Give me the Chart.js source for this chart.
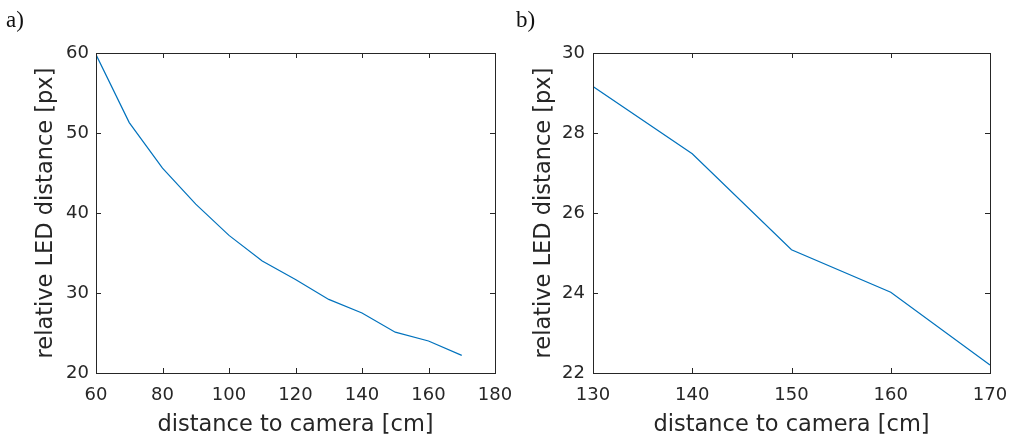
<!DOCTYPE html>
<html>
<head>
<meta charset="utf-8">
<script src="https://cdn.jsdelivr.net/npm/chart.js@4.4.1/dist/chart.umd.min.js"></script>
<style>
  html, body { margin: 0; padding: 0; background: #fff; }
  #wrap { position: relative; width: 1020px; height: 440px; overflow: hidden; }
  canvas { position: absolute; left: 0; top: 0; }
  .panel { position: absolute; font-family: "Liberation Serif", "DejaVu Serif", serif; font-size: 23px; line-height: 1; color: #111; }
</style>
</head>
<body>
<div id="wrap">
  <canvas id="c1" width="1020" height="440"></canvas>
  <canvas id="c2" width="1020" height="440"></canvas>
  <div class="panel" style="left:6px; top:8px;">a)</div>
  <div class="panel" style="left:516px; top:8px;">b)</div>
</div>
<script>
// ---- data ----
const distanceA = [60, 70, 80, 90, 100, 110, 120, 130, 140, 150, 160, 170];
const ledA = [59.8, 51.3, 45.6, 41.1, 37.2, 34.0, 31.7, 29.2, 27.5, 25.1, 24.0, 22.2];
const distanceB = [130, 140, 150, 160, 170];
const ledB = [29.16, 27.48, 25.08, 24.02, 22.2];
const xTitle = 'distance to camera [cm]';
const yTitle = 'relative LED distance [px]';

const AX = '#262626';
const LINE = '#0072BD';

const boxTicks = {
  id: 'boxTicks',
  afterDraw(chart) {
    const { ctx, chartArea: a, scales } = chart;
    const L = 5;
    ctx.save();
    ctx.strokeStyle = AX;
    ctx.lineWidth = 1;
    ctx.strokeRect(Math.round(a.left) + 0.5, Math.round(a.top) + 0.5,
                   Math.round(a.right - a.left), Math.round(a.bottom - a.top));
    ctx.beginPath();
    scales.x.ticks.forEach(t => {
      const px = Math.round(scales.x.getPixelForValue(t.value)) + 0.5;
      ctx.moveTo(px, a.bottom); ctx.lineTo(px, a.bottom - L);
      ctx.moveTo(px, a.top); ctx.lineTo(px, a.top + L);
    });
    scales.y.ticks.forEach(t => {
      const py = Math.round(scales.y.getPixelForValue(t.value)) + 0.5;
      ctx.moveTo(a.left, py); ctx.lineTo(a.left + L, py);
      ctx.moveTo(a.right, py); ctx.lineTo(a.right - L, py);
    });
    ctx.stroke();
    ctx.restore();
  }
};

function makeChart(id, xs, ys, xr, yr, pad, yWidth, yTitlePad, yTickPad) {
  return new Chart(document.getElementById(id), {
    type: 'line',
    data: {
      datasets: [{
        data: xs.map((x, i) => ({ x: x, y: ys[i] })),
        borderColor: LINE,
        borderWidth: 1.2,
        pointRadius: 0,
        tension: 0,
        fill: false
      }]
    },
    options: {
      responsive: false,
      animation: false,
      events: [],
      layout: { padding: pad },
      plugins: { legend: { display: false }, tooltip: { enabled: false } },
      scales: {
        x: {
          type: 'linear',
          min: xr[0], max: xr[1],
          grid: { display: false, drawTicks: false },
          border: { display: false },
          ticks: { stepSize: xr[2], color: AX, padding: 12, maxRotation: 0,
                   font: { family: 'DejaVu Sans', size: 18 } },
          title: { display: true, text: xTitle, color: AX,
                   font: { family: 'DejaVu Sans', size: 22.5 }, padding: { top: 0, bottom: 1 } },
          afterFit(s) { s.height = 67; }
        },
        y: {
          type: 'linear',
          min: yr[0], max: yr[1],
          grid: { display: false, drawTicks: false },
          border: { display: false },
          ticks: { stepSize: yr[2], color: AX, padding: yTickPad,
                   font: { family: 'DejaVu Sans', size: 18 } },
          title: { display: true, text: yTitle, color: AX,
                   font: { family: 'DejaVu Sans', size: 22.5 }, padding: { top: yTitlePad, bottom: 0 } },
          afterFit(s) { s.width = yWidth; }
        }
      }
    },
    plugins: [boxTicks]
  });
}

makeChart('c1', distanceA, ledA, [60, 180, 20], [20, 60, 10],
          { left: 0, top: 53, right: 525, bottom: 0 }, 96, 33, 7);
makeChart('c2', distanceB, ledB, [130, 170, 10], [22, 30, 2],
          { left: 500, top: 53, right: 30, bottom: 0 }, 93, 31, 8);
</script>
</body>
</html>
